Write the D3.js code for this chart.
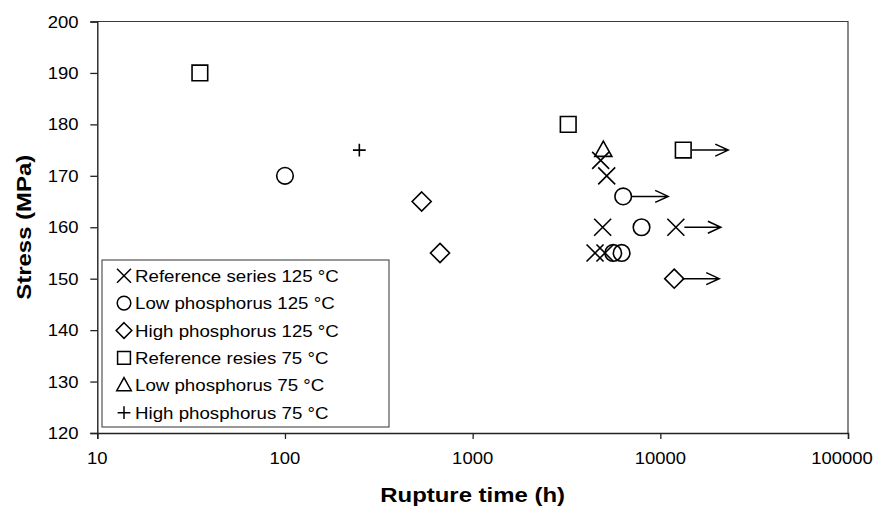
<!DOCTYPE html>
<html>
<head>
<meta charset="utf-8">
<script src="https://cdn.jsdelivr.net/npm/d3@7"></script>
<style>
  html, body { margin: 0; padding: 0; background: #fff; }
  svg { display: block; font-family: "Liberation Sans", Arial, sans-serif; }
</style>
</head>
<body>
<svg id="chart" width="876" height="506"></svg>
<script>
// Creep rupture data: rupture time (h) versus stress (MPa)
const seriesNames = [
  "Reference series 125 °C",
  "Low phosphorus 125 °C",
  "High phosphorus 125 °C",
  "Reference resies 75 °C",
  "Low phosphorus 75 °C",
  "High phosphorus 75 °C"
];
const seriesSymbols = ["x", "circle", "diamond", "square", "triangle", "plus"];

// [rupture time h, stress MPa, still running (1 = no rupture yet)]
const refSeries125 = [[4490, 155, 0], [5070, 155, 0], [4930, 160, 0], [12100, 160, 1], [5180, 170, 0], [4810, 173, 0]];
const lowP125      = [[100, 170, 0], [6340, 166, 1], [7940, 160, 0], [5610, 155, 0], [6220, 155, 0]];
const highP125     = [[535, 165, 0], [670, 155, 0], [11860, 150, 1]];
const refSeries75  = [[35.2, 190, 0], [3230, 180, 0], [13250, 175, 1]];
const lowP75       = [[4970, 175, 0]];
const highP75      = [[249, 175, 0]];
const seriesData = [refSeries125, lowP125, highP125, refSeries75, lowP75, highP75];

const xTicks = [10, 100, 1000, 10000, 100000];
const yTicks = [120, 130, 140, 150, 160, 170, 180, 190, 200];
const xLabel = "Rupture time (h)";
const yLabel = "Stress (MPa)";

const W = 876;
const svg = d3.select("#chart");
const plot = { left: 97.3, right: 848, top: 21.5, bottom: 433 };

const x = d3.scaleLog().domain([10, 100000]).range([plot.left, plot.right]);
const y = d3.scaleLinear().domain([120, 200]).range([plot.bottom, plot.top]);

// wide-set text, anchored at (px, py)
const TXT_SX = 1.12;
function wideText(g, px, py, str, opts) {
  const t = g.append("text")
    .attr("transform", `translate(${px},${py}) scale(${opts.sx || TXT_SX},1)`)
    .attr("font-size", opts.size)
    .attr("text-anchor", opts.anchor || "start")
    .attr("fill", "#000")
    .text(str);
  if (opts.bold) t.attr("font-weight", "bold");
  return t;
}

// stroked marker outlines, centred on 0,0; s = half size
function markerPath(type, s) {
  const p = d3.path();
  switch (type) {
    case "x":
      p.moveTo(-s, -s); p.lineTo(s, s); p.moveTo(-s, s); p.lineTo(s, -s); break;
    case "plus":
      p.moveTo(-s * 0.75, 0); p.lineTo(s * 0.75, 0); p.moveTo(0, -s * 0.75); p.lineTo(0, s * 0.75); break;
    case "circle":
      p.arc(0, 0, s, 0, 2 * Math.PI); break;
    case "square":
      p.rect(-s * 0.9, -s * 0.9, s * 1.8, s * 1.8); break;
    case "diamond":
      p.moveTo(0, -s * 1.15); p.lineTo(s * 1.15, 0); p.lineTo(0, s * 1.15); p.lineTo(-s * 1.15, 0); p.closePath(); break;
    case "triangle":
      p.moveTo(0, -s * 1.0); p.lineTo(s * 0.95, s * 0.7); p.lineTo(-s * 0.95, s * 0.7); p.closePath(); break;
  }
  return p.toString();
}
const markerHalf = { x: 8.5, plus: 8.5, circle: 8.3, square: 8.7, diamond: 8.3, triangle: 9 };
const legendScale = { x: 0.82, plus: 1.0, circle: 0.82, square: 0.82, diamond: 0.82, triangle: 0.85 };

// plot frame: top and right edges
svg.append("path")
  .attr("d", `M${plot.left},${plot.top}H${plot.right}V${plot.bottom}`)
  .attr("fill", "none").attr("stroke", "#3a3a3a").attr("stroke-width", 1.2);

// x axis
const xAxis = svg.append("g").attr("transform", `translate(0,${plot.bottom})`)
  .call(d3.axisBottom(x).tickValues(xTicks).tickSize(6).tickFormat(""));
xAxis.select(".domain").attr("stroke", "#222").attr("stroke-width", 1.4);
xAxis.selectAll(".tick line").attr("stroke", "#222").attr("stroke-width", 1.3);
xTicks.forEach(v => {
  const t = wideText(svg, x(v), 463.5, String(v), { size: 16.5, anchor: "middle" });
  // keep the last label inside the page
  const bb = t.node().getBBox();
  const half = bb.width * TXT_SX / 2;
  if (x(v) + half > W - 3) {
    t.attr("transform", `translate(${W - 3 - half},463.5) scale(${TXT_SX},1)`);
  }
});

// y axis
const yAxis = svg.append("g").attr("transform", `translate(${plot.left},0)`)
  .call(d3.axisLeft(y).tickValues(yTicks).tickSize(7).tickFormat(""));
yAxis.select(".domain").attr("stroke", "#222").attr("stroke-width", 1.4);
yAxis.selectAll(".tick line").attr("stroke", "#222").attr("stroke-width", 1.3);
yTicks.forEach(v => wideText(svg, 78.5, y(v) + 6, String(v), { size: 16.5, anchor: "end" }));

// axis titles
wideText(svg, (plot.left + plot.right) / 2, 501.5, xLabel, { size: 21, bold: true, anchor: "middle", sx: 1.14 });
svg.append("text")
  .attr("transform", `translate(31,${(plot.top + plot.bottom) / 2}) rotate(-90) scale(1.14,1)`)
  .attr("font-size", 21).attr("font-weight", "bold").attr("text-anchor", "middle")
  .text(yLabel);

// data markers and run-out arrows
const ARROW_LEN = 45;
seriesData.forEach((data, i) => {
  const type = seriesSymbols[i];
  const g = svg.append("g");
  data.forEach(d => {
    const cx = x(d[0]), cy = y(d[1]);
    g.append("path")
      .attr("d", markerPath(type, markerHalf[type]))
      .attr("transform", `translate(${cx},${cy})`)
      .attr("fill", "none").attr("stroke", "#000").attr("stroke-width", 1.6);
    if (d[2]) {
      const x0 = cx + markerHalf[type], x1 = cx + ARROW_LEN;
      const a = d3.path();
      a.moveTo(x0, cy); a.lineTo(x1, cy);
      a.moveTo(x1 - 13, cy - 6); a.lineTo(x1, cy); a.lineTo(x1 - 13, cy + 6);
      g.append("path").attr("d", a.toString())
        .attr("fill", "none").attr("stroke", "#000").attr("stroke-width", 1.5);
    }
  });
});

// legend
const legend = { left: 102, top: 260, right: 389, bottom: 427 };
svg.append("rect")
  .attr("x", legend.left).attr("y", legend.top)
  .attr("width", legend.right - legend.left).attr("height", legend.bottom - legend.top)
  .attr("fill", "#fff").attr("stroke", "#444").attr("stroke-width", 1.1);
seriesNames.forEach((name, i) => {
  const ry = legend.top + 15.7 + i * 27.4;
  const type = seriesSymbols[i];
  svg.append("path")
    .attr("d", markerPath(type, markerHalf[type] * legendScale[type]))
    .attr("transform", `translate(124,${ry})`)
    .attr("fill", "none").attr("stroke", "#000").attr("stroke-width", 1.5);
  wideText(svg, 135, ry + 6, name, { size: 17, sx: 1.1 });
});
</script>
</body>
</html>
